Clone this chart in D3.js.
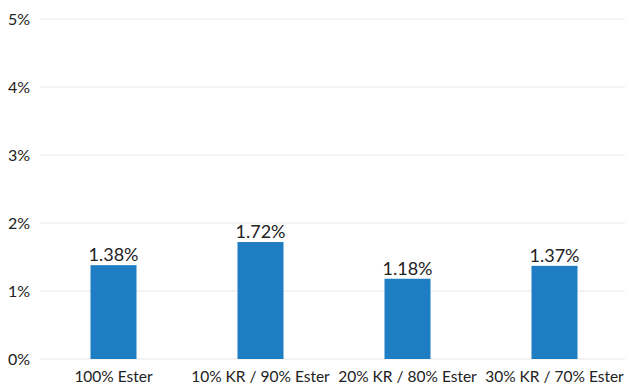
<!DOCTYPE html>
<html>
<head>
<meta charset="utf-8">
<script src="https://cdn.jsdelivr.net/npm/d3@7"></script>
<style>
  html, body { margin: 0; padding: 0; background: #fff; }
  svg { display: block; }
  text { font-family: Lato, "Open Sans", sans-serif; fill: #222; }
</style>
</head>
<body>
<svg id="chart" width="629" height="388"></svg>
<script>
const categories = ["100% Ester", "10% KR / 90% Ester", "20% KR / 80% Ester", "30% KR / 70% Ester"];
const values = [1.38, 1.72, 1.18, 1.37];
const yTicks = [0, 1, 2, 3, 4, 5];

const W = 629, H = 388;
const margin = { top: 19, right: 1, bottom: 29, left: 40 };

const svg = d3.select("#chart");

const x = d3.scaleBand()
  .domain(categories)
  .range([margin.left, W - margin.right])
  .paddingInner(0.687)
  .paddingOuter(0.3435);

const y = d3.scaleLinear()
  .domain([0, 5])
  .range([H - margin.bottom, margin.top]);

// horizontal gridlines
svg.append("g")
  .selectAll("line")
  .data(yTicks)
  .join("line")
  .attr("x1", margin.left)
  .attr("x2", W - 4)
  .attr("y1", d => y(d))
  .attr("y2", d => y(d))
  .attr("stroke", "#e8e8e8")
  .attr("stroke-width", 1.2);

// y axis labels
const yAxis = d3.axisLeft(y).tickValues(yTicks).tickFormat(d => d + "%").tickSize(0).tickPadding(10);
const gy = svg.append("g")
  .attr("transform", `translate(${margin.left},0)`)
  .call(yAxis);
gy.select(".domain").remove();
gy.selectAll("text").attr("font-size", 16).attr("fill", "#222")
  .attr("font-family", "Lato, 'Open Sans', sans-serif");

// bars
svg.append("g")
  .selectAll("rect")
  .data(values)
  .join("rect")
  .attr("x", (d, i) => x(categories[i]))
  .attr("width", x.bandwidth())
  .attr("y", d => y(d))
  .attr("height", d => y(0) - y(d))
  .attr("fill", "#1f7ec3");

// value labels
svg.append("g")
  .selectAll("text")
  .data(values)
  .join("text")
  .attr("x", (d, i) => x(categories[i]) + x.bandwidth() / 2)
  .attr("y", d => y(d) - 4)
  .attr("text-anchor", "middle")
  .attr("font-size", 18)
  .text(d => d.toFixed(2) + "%");

// category labels
const xAxis = d3.axisBottom(x).tickSize(0).tickPadding(12);
const gx = svg.append("g")
  .attr("transform", `translate(0,${y(0)})`)
  .call(xAxis);
gx.select(".domain").remove();
gx.selectAll("text").attr("font-size", 15.5).attr("fill", "#222")
  .attr("font-family", "Lato, 'Open Sans', sans-serif");
</script>
</body>
</html>
